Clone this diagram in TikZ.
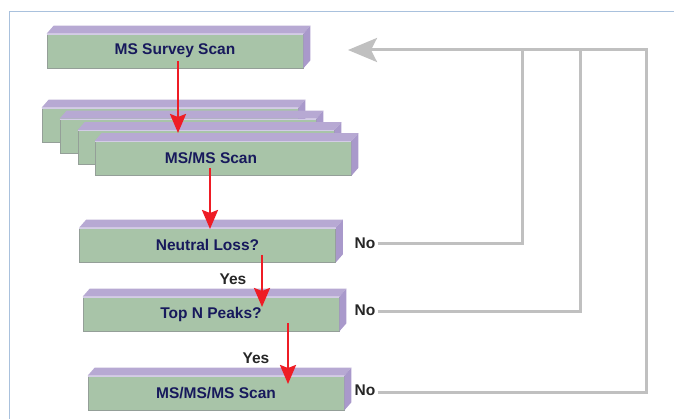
\documentclass[tikz,border=0pt]{standalone}
\usepackage{fontspec}
\setmainfont{Liberation Sans}
\usetikzlibrary{arrows.meta}

\definecolor{slabfront}{HTML}{A8C4A8}
\definecolor{slabtop}{HTML}{B7A9D3}
\definecolor{slabside}{HTML}{A999CB}
\definecolor{slabedge}{HTML}{949F98}
\definecolor{slabhi}{HTML}{D3CCE6}
\definecolor{navy}{HTML}{17195C}
\definecolor{flowred}{HTML}{EE1C25}
\definecolor{loopgray}{HTML}{C0C0C0}
\definecolor{framblue}{HTML}{A9C1DD}

% front face of a slab; the top and side faces are added by \slabfaces
\tikzset{
  slab/.style={rectangle, fill=slabfront, draw=slabedge, line width=0.7pt,
    minimum width=256pt, minimum height=34pt, inner sep=0pt,
    font=\fontsize{15.5}{18}\selectfont\bfseries, text=navy},
  answer/.style={font=\fontsize{15.5}{18}\selectfont\bfseries, text=black!85,
    inner sep=2pt},
  flow/.style={draw=flowred, line width=2.4pt,
    -{Stealth[length=19pt,width=16pt,inset=3pt]}},
  loop/.style={draw=loopgray, line width=3pt},
}
\newcommand\slabfaces[1]{%
  \fill[slabtop] (#1.north west) -- ++(7pt,8pt)
    -- ([shift={(7pt,8pt)}]#1.north east) -- (#1.north east) -- cycle;
  \fill[slabside] (#1.north east) -- ++(7pt,8pt)
    -- ([shift={(7pt,8pt)}]#1.south east) -- (#1.south east) -- cycle;
  \draw[slabhi, line width=0.8pt] ([yshift=-0.6pt]#1.north west) -- ([yshift=-0.6pt]#1.north east);
}

\begin{document}
\begin{tikzpicture}[x=1pt, y=-1pt]
\useasboundingbox (0,0) rectangle (674,419);

% frame
\draw[framblue, line width=0.9pt] (9,419) -- (9,11) -- (674,11);

% survey scan
\node[slab] (survey) at (175,51) {MS Survey Scan};
\slabfaces{survey}

% stack of MS/MS scans
\node[slab] (stackA) at (170,125) {};
\slabfaces{stackA}
\node[slab] (stackB) at (188,136) {};
\slabfaces{stackB}
\node[slab] (stackC) at (206,147.5) {};
\slabfaces{stackC}
\node[slab] (msms) at (223,158.5) {MS/MS Scan\hspace*{24pt}};
\slabfaces{msms}

% decisions
\node[slab] (loss) at (207.5,245) {Neutral Loss?};
\slabfaces{loss}
\node[slab] (peaks) at (211,314) {Top N Peaks?};
\slabfaces{peaks}
\node[slab] (ms3) at (216,393) {MS/MS/MS Scan};
\slabfaces{ms3}

% answers
\node[answer] (yes1) at (233,279) {Yes};
\node[answer] (yes2) at (256,358) {Yes};
\node[answer] (no1) at (365,243.5) {No};
\node[answer] (no2) at (365,310.5) {No};
\node[answer] (no3) at (365,390.5) {No};

% flow arrows
\coordinate (f1s) at (178,61);   \coordinate (f1e) at (178,133);
\coordinate (f2s) at (210,168);  \coordinate (f2e) at (210,229);
\coordinate (f3s) at (262,255);  \coordinate (f3e) at (262,307);
\coordinate (f4s) at (288,323);  \coordinate (f4e) at (288,384);
\draw[flow] (f1s) -- (f1e);
\draw[flow] (f2s) -- (f2e);
\draw[flow] (f3s) -- (f3e);
\draw[flow] (f4s) -- (f4e);

% return loops
\coordinate (ret) at (348,50);
\draw[loop] (no1.east) -| (522,50);
\draw[loop] (no2.east |- 0,312) -| (580,50);
\draw[loop, -{Stealth[length=29pt,width=24pt,inset=6pt]}]
  (no3.east |- 0,392) -| (646,50) -- (ret);
\end{tikzpicture}
\end{document}
